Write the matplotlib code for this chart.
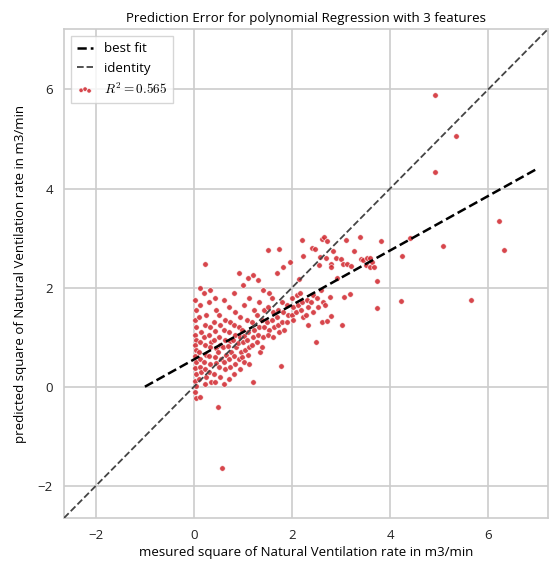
import numpy as np
import matplotlib.pyplot as plt

measured = [
    0.02, 0.04, 0.03, 0.05, 0.02, 0.04, 0.03, 0.05, 0.02, 0.04, 0.03, 0.05, 0.02, 0.04, 0.03, 0.05,
    0.12, 0.13, 0.11, 0.14, 0.12, 0.10, 0.13, 0.12, 0.14, 0.11, 0.12,
    0.22, 0.21, 0.24, 0.23, 0.20, 0.22, 0.25, 0.21, 0.23, 0.24, 0.22,
    0.32, 0.30, 0.33, 0.31, 0.34, 0.32, 0.30, 0.33, 0.31, 0.34,
    0.42, 0.44, 0.41, 0.43, 0.40, 0.45, 0.42, 0.44, 0.41, 0.43, 0.49,
    0.52, 0.54, 0.51, 0.53, 0.50, 0.55, 0.52, 0.54, 0.57,
    0.62, 0.64, 0.61, 0.63, 0.60, 0.65, 0.62, 0.64, 0.61,
    0.72, 0.74, 0.71, 0.73, 0.70, 0.75, 0.72, 0.74, 0.71,
    0.82, 0.84, 0.81, 0.83, 0.80, 0.85, 0.82, 0.84, 0.81,
    0.92, 0.94, 0.91, 0.93, 0.90, 0.95, 0.92, 0.94,
    1.00, 1.02, 0.99, 1.03, 1.01, 1.04, 0.98, 1.02,
    1.10, 1.12, 1.08, 1.11, 1.09, 1.13, 1.10, 1.12,
    1.20, 1.22, 1.19, 1.23, 1.21, 1.18, 1.20,
    1.30, 1.32, 1.29, 1.33, 1.31, 1.28, 1.35,
    1.40, 1.42, 1.39, 1.43, 1.41, 1.38,
    1.50, 1.54, 1.52, 1.49, 1.53, 1.51,
    1.60, 1.62, 1.59, 1.63, 1.61,
    1.73, 1.70, 1.72, 1.69, 1.71, 1.74,
    1.81, 1.80, 1.82, 1.79, 1.83, 1.77,
    1.95, 1.90, 1.92, 1.89,
    2.00, 2.02, 1.99, 2.03,
    2.15, 2.10, 2.12, 2.09,
    2.20, 2.22, 2.17, 2.21, 2.19, 2.23,
    2.30, 2.32, 2.29, 2.33,
    2.40, 2.42, 2.39, 2.43,
    2.46, 2.56, 2.50, 2.52, 2.49,
    2.62, 2.58, 2.60, 2.63, 2.61,
    2.66, 2.72, 2.70, 2.68, 2.72,
    2.83, 2.80, 2.80, 2.78, 2.80,
    2.90, 2.92,
    2.99, 3.03, 3.01, 3.05,
    3.11, 3.13,
    3.27, 3.21, 3.19,
    3.39, 3.41, 3.45,
    3.52, 3.50,
    3.58, 3.58, 3.64,
    3.68, 3.74, 3.74,
    3.82,
    4.25, 4.23,
    4.41,
    4.92, 4.92,
    5.08,
    5.35,
    5.65,
    6.22,
    6.32,
]
predicted = [
    1.75, 1.55, 1.35, 1.20, 1.05, 0.95, 0.85, 0.75, 0.62, 0.50, 0.38, 0.25, 0.12, 0.02, -0.10, -0.22,
    2.00, 1.65, 1.40, 1.10, 0.90, 0.70, 0.55, 0.40, 0.30, 0.15, -0.20,
    2.48, 1.90, 1.45, 1.25, 1.00, 0.85, 0.65, 0.50, 0.35, 0.20, 0.05,
    1.95, 1.70, 1.20, 1.05, 0.90, 0.80, 0.62, 0.45, 0.30, 0.10,
    1.80, 1.55, 1.30, 1.12, 0.95, 0.78, 0.60, 0.48, 0.25, 0.10, -0.40,
    1.45, 1.25, 1.00, 0.85, 0.70, 0.55, 0.40, 0.20, -1.65,
    1.75, 1.35, 1.15, 0.95, 0.80, 0.65, 0.50, 0.35, 0.05,
    1.60, 1.30, 1.10, 0.92, 0.82, 0.70, 0.55, 0.40, 0.15,
    1.90, 1.50, 1.25, 1.05, 0.95, 0.80, 0.62, 0.45, 0.25,
    2.30, 1.40, 1.20, 1.00, 0.88, 0.70, 0.55, 0.35,
    2.05, 1.65, 1.15, 1.02, 0.90, 0.75, 0.60, 0.50,
    2.20, 1.80, 1.35, 1.10, 0.95, 0.80, 0.65, 0.45,
    2.25, 1.55, 1.30, 1.15, 1.00, 0.85, 0.10,
    2.15, 1.70, 1.45, 1.20, 1.05, 0.90, 0.70,
    1.95, 1.55, 1.35, 1.20, 1.00, 0.80,
    2.75, 1.90, 1.60, 1.30, 1.15, 1.05,
    1.80, 1.50, 1.35, 1.20, 1.00,
    2.78, 2.30, 1.55, 1.40, 1.25, 1.10,
    2.42, 1.70, 1.50, 1.30, 1.15, 0.42,
    2.52, 1.65, 1.45, 1.30,
    1.80, 1.60, 1.45, 1.35,
    2.18, 1.85, 1.65, 1.50,
    2.96, 2.64, 1.90, 1.70, 1.55, 1.40,
    1.75, 1.60, 1.45, 1.25,
    2.80, 1.85, 1.70, 1.50,
    2.78, 2.45, 1.80, 1.60, 0.90,
    2.98, 2.62, 1.95, 1.70, 1.30,
    3.02, 2.94, 2.60, 1.65, 1.33,
    2.74, 2.48, 2.42, 1.81, 1.43,
    2.60, 2.20,
    2.58, 2.48, 1.25, 1.81,
    2.96, 2.48,
    2.74, 2.44, 1.87,
    3.02, 2.58, 2.55,
    2.60, 2.45,
    2.60, 2.42, 2.52,
    2.42, 2.14, 1.59,
    2.94,
    2.64, 1.73,
    3.00,
    5.89, 4.33,
    2.84,
    5.06,
    1.75,
    3.35,
    2.76,
]

# best fit line and identity line
fit_x = [-1.0, 7.0]
fit_slope = 0.55
fit_intercept = 0.55
lim = [-2.65, 7.22]
r2 = 0.565

plt.rcParams['font.family'] = ['Open Sans', 'DejaVu Sans']
plt.rcParams['mathtext.fontset'] = 'cm'

fig = plt.figure(figsize=(5.53, 5.61), dpi=100)
ax = fig.add_axes([64 / 553, 43 / 561, 484 / 553, 489 / 561])

ax.scatter(measured, predicted, s=16, c='#d0262d', edgecolors='white',
           linewidths=0.5, alpha=0.85, label='$R^2 = %.3f$' % r2, zorder=3)

fx = np.array(fit_x)
ax.plot(fx, fit_slope * fx + fit_intercept, '--', color='black', lw=1.8,
        label='best fit', zorder=4)
ax.plot(lim, lim, '--', color='#444444', lw=1.3, label='identity', zorder=4)

ax.set_xlim(lim)
ax.set_ylim(lim)
ax.set_xticks([-2, 0, 2, 4, 6])
ax.set_yticks([-2, 0, 2, 4, 6])
ax.grid(True, color='#cccccc', lw=1.2)
ax.set_axisbelow(True)
for s in ax.spines.values():
    s.set_color('#cccccc')
    s.set_linewidth(1.2)
ax.tick_params(length=0, labelsize=9.5, colors='#222222', pad=8)

ax.set_title('Prediction Error for polynomial Regression with 3 features',
             fontsize=9.5, fontweight='medium', pad=5)
ax.set_xlabel('mesured square of Natural Ventilation rate in m3/min', fontsize=9.5, labelpad=3)
ax.set_ylabel('predicted square of Natural Ventilation rate in m3/min', fontsize=9.5, labelpad=8)

h, l = ax.get_legend_handles_labels()
order = [1, 2, 0]
ax.legend([h[i] for i in order], [l[i] for i in order], loc='upper left',
          fontsize=9.5, frameon=True, edgecolor='#cccccc', fancybox=False,
          scatterpoints=3, markerscale=0.8, handlelength=1.2, borderpad=0.5)

fig.savefig('out.png', dpi=100)
